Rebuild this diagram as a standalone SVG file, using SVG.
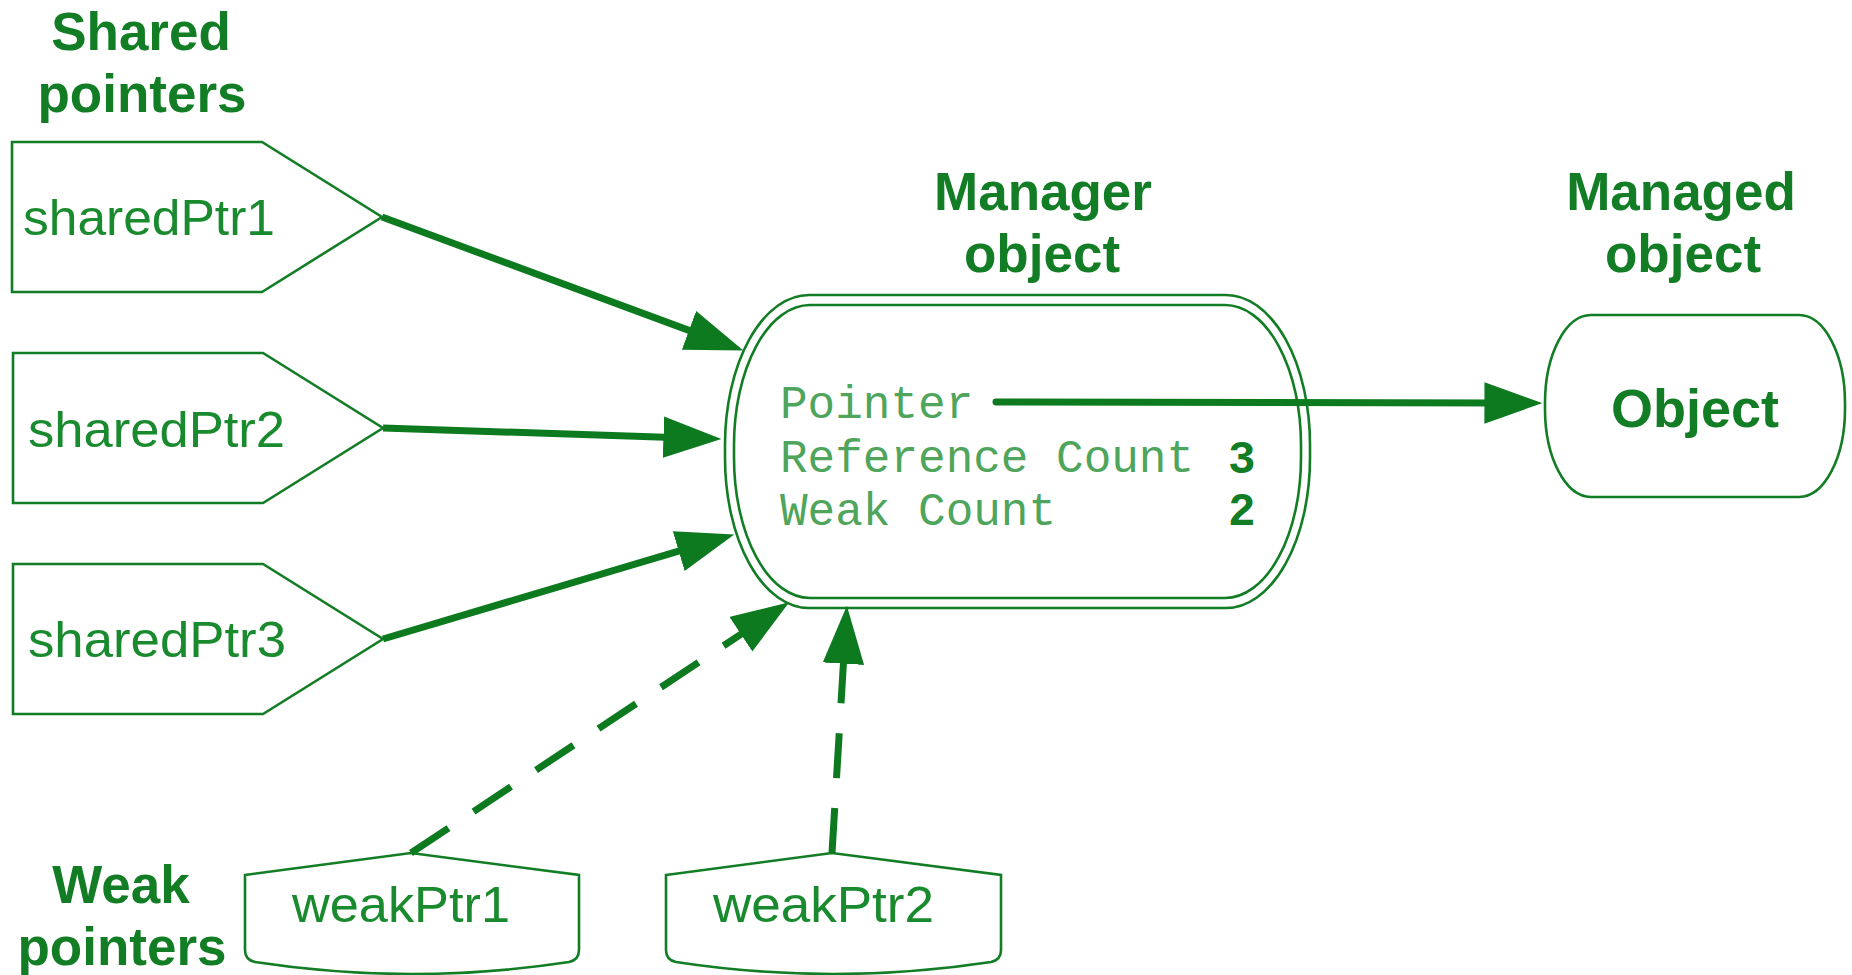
<svg xmlns="http://www.w3.org/2000/svg" width="1852" height="975" viewBox="0 0 1852 975">
<style>
.bg{fill:#ffffff}
.box{fill:#ffffff;stroke:#127d25;stroke-width:2.6}
.head{font-family:"Liberation Sans",Arial,sans-serif;font-weight:bold;font-size:53px;fill:#127d25;text-anchor:middle}
.lbl{font-family:"Liberation Sans",Arial,sans-serif;font-size:50px;fill:#1a8a2e}
.mono{font-family:"Liberation Mono","Courier New",monospace;font-size:46px;fill:#4ea55b}
.monob{font-family:"Liberation Mono","Courier New",monospace;font-size:46px;font-weight:bold;fill:#127d25}
.obj{font-family:"Liberation Sans",Arial,sans-serif;font-weight:bold;font-size:54px;fill:#127d25;text-anchor:middle}
.conn{fill:none;stroke:#0d7a1f;stroke-width:7;marker-end:url(#ah)}
.dash{stroke-dasharray:45 30}
</style>
<defs>
<marker id="ah" markerUnits="userSpaceOnUse" markerWidth="58" markerHeight="42" viewBox="0 0 56 40" refX="16" refY="20" orient="auto">
<path d="M0,0 L56,20 L0,40 Z" fill="#0d7a1f"/>
</marker>
</defs>
<rect class="bg" x="0" y="0" width="1852" height="975"/>

<g id="labels">
<text class="head" x="141" y="50">Shared</text>
<text class="head" x="142" y="112">pointers</text>
<text class="head" x="1043" y="210">Manager</text>
<text class="head" x="1042" y="272">object</text>
<text class="head" x="1681" y="210">Managed</text>
<text class="head" x="1683" y="272">object</text>
<text class="head" x="121" y="903">Weak</text>
<text class="head" x="122" y="965">pointers</text>
</g>

<g id="sharedPtr1">
<path class="box" d="M12,142 L262,142 L382,217 L262,292 L12,292 Z"/>
<text class="lbl" x="23" y="235" textLength="252" lengthAdjust="spacingAndGlyphs">sharedPtr1</text>
</g>
<g id="sharedPtr2">
<path class="box" d="M13,353 L263,353 L383,428 L263,503 L13,503 Z"/>
<text class="lbl" x="28" y="447" textLength="257" lengthAdjust="spacingAndGlyphs">sharedPtr2</text>
</g>
<g id="sharedPtr3">
<path class="box" d="M13,564 L263,564 L383,639 L263,714 L13,714 Z"/>
<text class="lbl" x="28" y="657" textLength="258" lengthAdjust="spacingAndGlyphs">sharedPtr3</text>
</g>

<g id="manager">
<rect class="box" x="725" y="295" width="585" height="313" rx="84" ry="150"/>
<rect class="box" x="734" y="305" width="567" height="293" rx="76" ry="140"/>
<text class="mono" x="780" y="418">Pointer</text>
<text class="mono" x="780" y="472">Reference Count</text>
<text class="mono" x="780" y="525">Weak Count</text>
<text class="monob" x="1228" y="473">3</text>
<text class="monob" x="1228" y="525">2</text>
</g>

<g id="object">
<rect class="box" x="1545" y="315" width="300" height="182" rx="46" ry="88"/>
<text class="obj" x="1695" y="427">Object</text>
</g>

<g id="weakPtr1">
<path class="box" d="M245,875 L411,853 L579,875 L579,950 Q579,960 569,962 Q412,986 255,962 Q245,960 245,950 Z"/>
<text class="lbl" x="292" y="922" textLength="218" lengthAdjust="spacingAndGlyphs">weakPtr1</text>
</g>
<g id="weakPtr2">
<path class="box" d="M666,875 L832,853 L1001,875 L1001,950 Q1001,960 991,962 Q833,986 676,962 Q666,960 666,950 Z"/>
<text class="lbl" x="713" y="922" textLength="221" lengthAdjust="spacingAndGlyphs">weakPtr2</text>
</g>

<g id="connectors">
<path class="conn" d="M382,217 L704.5,336.1"/>
<path class="conn" d="M383,428 L680,437.7"/>
<path class="conn" d="M383,639 L694.6,546.4"/>
<path class="conn dash" d="M411,853 L754.7,625.1"/>
<path class="conn dash" d="M832,853 L844.4,647.1"/>
<path class="conn" style="stroke-linecap:round" d="M996,402 L1501,403"/>
</g>
</svg>
